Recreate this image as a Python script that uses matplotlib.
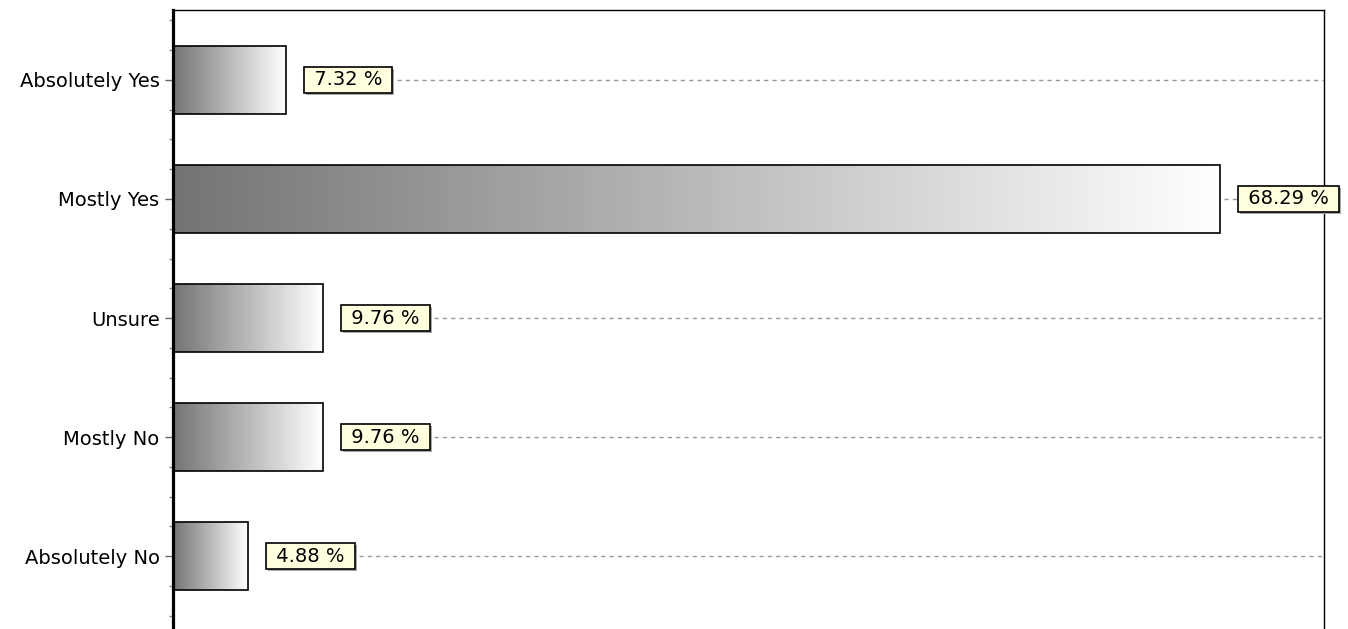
import numpy as np
import matplotlib.pyplot as plt
from matplotlib.colors import LinearSegmentedColormap
from matplotlib.ticker import FixedLocator
from matplotlib import transforms

# Data
categories = ['Absolutely Yes', 'Mostly Yes', 'Unsure', 'Mostly No', 'Absolutely No']
percents = [7.32, 68.29, 9.76, 9.76, 4.88]

plt.rcParams['font.family'] = ['DejaVu Sans']

fig = plt.figure(figsize=(13.48, 6.29), dpi=100)
ax = fig.add_axes([173.5 / 1348, 0, (1324 - 173.5) / 1348, 1 - 10 / 629])

xmax = 75.1
fsize = 14
pad = 0.2
pad_px = pad * fsize * 100 / 72

cmap = LinearSegmentedColormap.from_list('bar', ['#747474', '#ffffff'])
grad = np.linspace(0, 1, 256).reshape(1, -1)
bar_h = 0.57

ypos = np.arange(len(categories))
for y, v in zip(ypos, percents):
    ax.imshow(grad, cmap=cmap, aspect='auto', interpolation='bilinear',
              extent=[0, v, y + bar_h / 2, y - bar_h / 2], zorder=2)
    ax.add_patch(plt.Rectangle((0, y - bar_h / 2), v, bar_h, fill=False,
                               edgecolor='black', linewidth=1.2, zorder=3))
ax.set_xlim(0, xmax)
ax.set_ylim(4.613, -0.588)

# value labels with a small grey shadow
labels = []
for y, v in zip(ypos, percents):
    txt = ' %.2f %% ' % v
    shadow_tr = transforms.offset_copy(ax.transData, fig=fig, x=2, y=-2, units='dots')
    ax.annotate(txt, xy=(v, y), xytext=(18 + pad_px, 0), textcoords='offset pixels',
                ha='left', va='center', fontsize=fsize, color='none',
                bbox=dict(boxstyle='square,pad=%s' % pad, fc='#a8a8a8', ec='none'),
                zorder=4, annotation_clip=False, xycoords=shadow_tr)
    t = ax.annotate(txt, xy=(v, y), xytext=(18 + pad_px, 0), textcoords='offset pixels',
                    ha='left', va='center', fontsize=fsize, color='black',
                    bbox=dict(boxstyle='square,pad=%s' % pad, fc='#ffffe0', ec='black', lw=1.2),
                    zorder=5, annotation_clip=False)
    labels.append(t)

# dashed guide lines from the label box to the right border
fig.canvas.draw()
inv = ax.transData.inverted()
for y, v, t in zip(ypos, percents, labels):
    bb = t.get_bbox_patch().get_window_extent()
    x_right = inv.transform((bb.x1, 0))[0]
    if x_right < xmax:
        ax.plot([x_right + 0.3, xmax], [y, y], linestyle=(0, (3, 3)),
                color='#999999', linewidth=1, zorder=1)
    else:
        x_left = inv.transform((bb.x0, 0))[0]
        ax.plot([v + 0.3, x_left], [y, y], linestyle=(0, (3, 3)),
                color='#999999', linewidth=1, zorder=1)

ax.set_yticks(ypos)
ax.set_yticklabels(categories, fontsize=fsize)
minor = [m for m in np.arange(-0.5, 4.75, 0.25) if abs(m - round(m)) > 0.01]
ax.yaxis.set_minor_locator(FixedLocator(minor))
ax.tick_params(axis='y', which='major', length=6, width=1, color='#666666', pad=4)
ax.tick_params(axis='y', which='minor', length=3, width=1, color='#888888')
ax.set_xticks([])

for s in ['top', 'right']:
    ax.spines[s].set_linewidth(1)
ax.spines['left'].set_linewidth(2.3)
ax.spines['bottom'].set_visible(False)

fig.savefig('out.png', dpi=100)
